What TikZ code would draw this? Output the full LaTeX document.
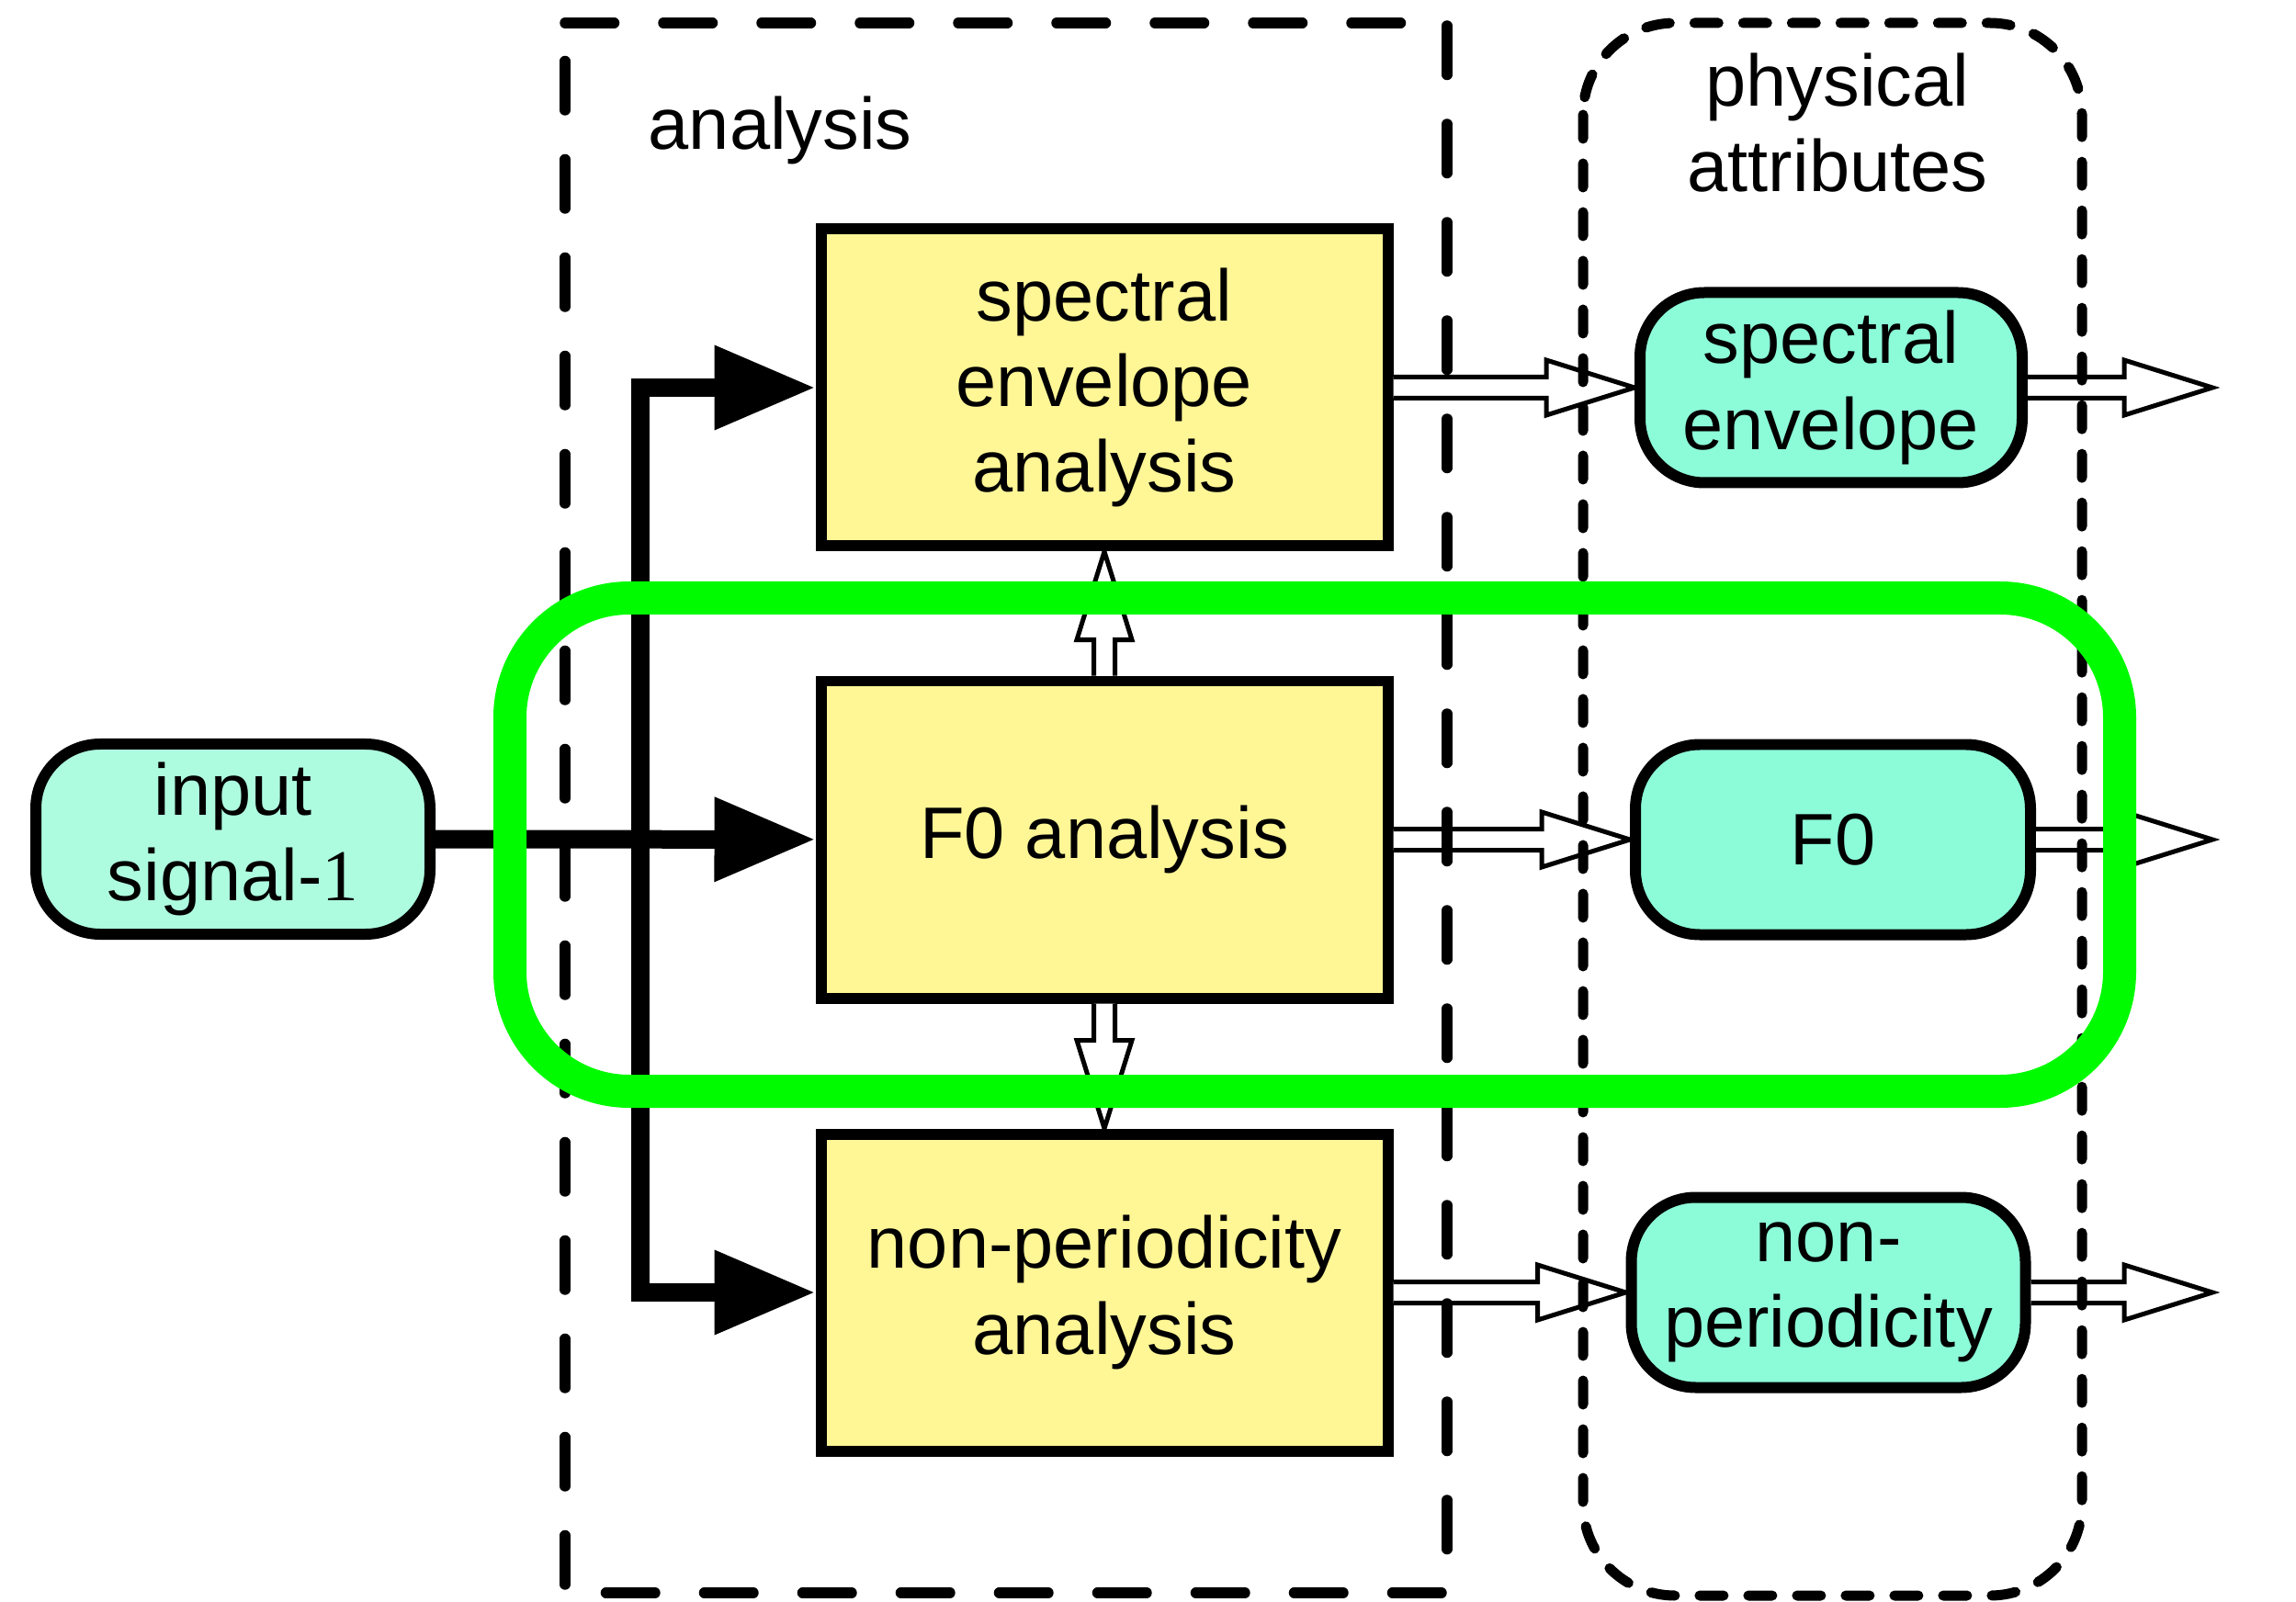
\documentclass[tikz,border=0pt]{standalone}
\usepackage{fontspec}
\setmainfont{Liberation Sans}
\newfontfamily\serifone{Liberation Serif}
\usetikzlibrary{arrows.meta,calc}
\definecolor{boxyellow}{RGB}{255,246,150}
\definecolor{mintin}{RGB}{174,252,224}
\definecolor{mint}{RGB}{140,252,216}
\definecolor{hlgreen}{RGB}{0,250,0}
% flèche creuse entre deux points
\newcommand{\hollowarrow}[2]{%
  \path (#1) coordinate (ha) (#2) coordinate (hb);
  \coordinate (hc) at ($(hb)!0.96cm!(ha)$);
  \filldraw[hollow] ($(ha)!0.115cm!90:(hb)$) -- ($(hc)!0.115cm!90:(hb)$)
    -- ($(hc)!0.30cm!90:(hb)$) -- (hb) -- ($(hc)!0.30cm!-90:(hb)$)
    -- ($(hc)!0.115cm!-90:(hb)$) -- ($(ha)!0.115cm!-90:(hb)$);
}
\begin{document}
\begin{tikzpicture}[y=-1cm,
  font=\fontsize{22.6pt}{26.5pt}\selectfont,
  yellowbox/.style={draw, line width=0.12cm, fill=boxyellow, minimum width=6.17cm, minimum height=3.45cm, align=center, inner sep=0},
  mintbox/.style={draw, line width=0.12cm, fill=mint, rounded corners=0.7cm, minimum width=4.29cm, minimum height=2.07cm, align=center, inner sep=0},
  feed/.style={line width=0.2cm, line join=miter, -{Triangle[length=1.1cm,width=0.87cm]}},
  hollow/.style={draw=black, fill=white, line width=0.05cm, line join=miter},
  highlight/.style={draw=hlgreen, line width=0.36cm, rounded corners=1.3cm}]
  \useasboundingbox (0,0) rectangle (24.99,17.44);
  % Blocs
  \node[mintbox, fill=mintin] (input) at (2.535,9.135) {input\\signal-{\serifone 1}};
  \node[yellowbox] (spa) at (12.02,4.22) {spectral\\envelope\\analysis};
  \node[yellowbox] (f0a) at (12.02,9.14) {F0 analysis};
  \node[yellowbox] (npa) at (12.02,14.07) {non-periodicity\\analysis};
  \node[mintbox, minimum width=4.16cm] (sp) at (19.93,4.22) {spectral\\envelope};
  \node[mintbox, minimum width=4.3cm] (f0) at (19.95,9.14) {F0};
  \node[mintbox] (np) at (19.9,14.07) {non-\\periodicity};
  \coordinate (bus) at (6.97,0);
  \coordinate (out) at (24.08,0);
  % Signal d'entrée
  \draw[feed] (input) -- (f0a);
  \draw[feed, {Triangle[length=1.1cm,width=0.87cm]}-{Triangle[length=1.1cm,width=0.87cm]}]
    (spa.west) -- (spa.west -| bus) -- (npa.west -| bus) -- (npa.west);
  % Flèches creuses
  \hollowarrow{f0a.north}{spa.south}
  \hollowarrow{f0a.south}{npa.north}
  \hollowarrow{spa.east}{sp.west}
  \hollowarrow{f0a.east}{f0.west}
  \hollowarrow{npa.east}{np.west}
  \hollowarrow{sp.east}{sp.east -| out}
  \hollowarrow{f0.east}{f0.east -| out}
  \hollowarrow{np.east}{np.east -| out}
  % Cadres en pointillés
  \draw[line width=0.115cm, line cap=round, dash pattern=on 0.535cm off 0.535cm]
    (6.15,0.25) -- (15.75,0.25) -- (15.75,17.34) -- (6.15,17.34) -- cycle;
  \draw[line width=0.11cm, line cap=round, dash pattern=on 0.26cm off 0.27cm, rounded corners=1cm]
    (17.23,0.25) rectangle (22.66,17.37);
  \node[anchor=base west, inner sep=0] (analysislabel) at (7.05,1.63) {analysis};
  \node[inner sep=0, align=center] (physlabel) at (20.0,1.34) {physical\\attributes};
  % Cadre vert
  \draw[highlight] (5.55,6.51) rectangle (23.07,11.88);
\end{tikzpicture}
\end{document}
